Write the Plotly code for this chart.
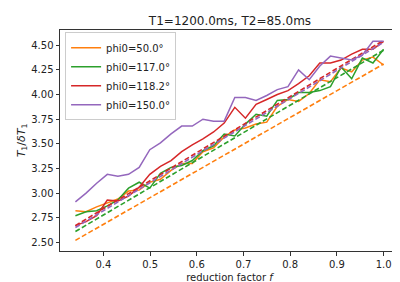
import plotly.graph_objects as go

# reduction factor f (30 samples)
f_values = [0.3400, 0.3628, 0.3855, 0.4083, 0.4310, 0.4538, 0.4766, 0.4993, 0.5221, 0.5448,
            0.5676, 0.5903, 0.6131, 0.6359, 0.6586, 0.6814, 0.7041, 0.7269, 0.7497, 0.7724,
            0.7952, 0.8179, 0.8407, 0.8634, 0.8862, 0.9090, 0.9317, 0.9545, 0.9772, 1.0000]

labels = ["phi0=50.0°", "phi0=117.0°", "phi0=118.2°", "phi0=150.0°"]
colors = ["#ff7f0e", "#2ca02c", "#d62728", "#9467bd"]

phi50 = [2.82, 2.81, 2.86, 2.90, 2.94, 3.02, 3.03, 3.11, 3.14, 3.23,
         3.30, 3.30, 3.42, 3.46, 3.57, 3.64, 3.66, 3.70, 3.72, 3.88,
         3.95, 3.93, 4.01, 4.15, 4.13, 4.27, 4.23, 4.35, 4.38, 4.30]
phi117 = [2.77, 2.81, 2.82, 2.87, 2.93, 3.05, 3.11, 3.05, 3.20, 3.26,
          3.28, 3.33, 3.43, 3.48, 3.60, 3.58, 3.70, 3.80, 3.78, 3.94,
          3.95, 4.02, 4.02, 4.04, 4.08, 4.28, 4.16, 4.37, 4.32, 4.46]
phi118 = [2.67, 2.71, 2.77, 2.93, 2.92, 2.97, 3.06, 3.19, 3.27, 3.33,
          3.42, 3.49, 3.55, 3.62, 3.71, 3.87, 3.76, 3.90, 3.95, 4.00,
          4.04, 4.11, 4.19, 4.32, 4.32, 4.35, 4.41, 4.46, 4.46, 4.54]
phi150 = [2.91, 3.00, 3.10, 3.19, 3.17, 3.19, 3.26, 3.44, 3.51, 3.60,
          3.68, 3.68, 3.75, 3.73, 3.73, 3.97, 3.97, 3.94, 3.99, 4.05,
          4.08, 4.25, 4.15, 4.29, 4.39, 4.37, 4.35, 4.40, 4.54, 4.54]
series = [phi50, phi117, phi118, phi150]

# linear-fit (dashed) values at f = 0.34 and f = 1.0
fit_f = [0.34, 1.0]
fit_start = [2.52, 2.61, 2.67, 2.65]
fit_end = [4.31, 4.45, 4.55, 4.53]

fig = go.Figure()
for lab, col, ys, y0, y1 in zip(labels, colors, series, fit_start, fit_end):
    fig.add_trace(go.Scatter(x=f_values, y=ys, mode="lines", name=lab,
                             line=dict(color=col, width=1.5)))
    fig.add_trace(go.Scatter(x=fit_f, y=[y0, y1], mode="lines", showlegend=False,
                             line=dict(color=col, width=1.6, dash="5px,2.5px")))

font = "DejaVu Sans, Arial, sans-serif"
axis_common = dict(showline=True, mirror=True, linecolor="#333", linewidth=1,
                   ticks="outside", ticklen=3.5, tickcolor="#333", showgrid=False,
                   zeroline=False, tickfont=dict(size=10, color="#222", family=font))

fig.update_layout(
    width=400, height=282,
    margin=dict(l=52, r=9, t=22, b=39),
    paper_bgcolor="white", plot_bgcolor="white",
    title=dict(text="T1=1200.0ms, T2=85.0ms", x=0.555, xanchor="center", y=0.955,
               yanchor="middle", font=dict(size=12, color="#222", family=font)),
    xaxis=dict(range=[0.307, 1.033], tickvals=[0.4, 0.5, 0.6, 0.7, 0.8, 0.9, 1.0],
               ticktext=["0.4", "0.5", "0.6", "0.7", "0.8", "0.9", "1.0"],
               title=dict(text="reduction factor <i>f</i>", standoff=5,
                          font=dict(size=10, color="#222", family=font)),
               **axis_common),
    yaxis=dict(range=[2.412, 4.655], tickvals=[2.5, 2.75, 3.0, 3.25, 3.5, 3.75, 4.0, 4.25, 4.5],
               ticktext=["2.50", "2.75", "3.00", "3.25", "3.50", "3.75", "4.00", "4.25", "4.50"],
               title=dict(text="<i>T</i><sub>1</sub>/<i>δT</i><sub>1</sub>", standoff=3,
                          font=dict(size=11, color="#222", family=font)),
               **axis_common),
    legend=dict(x=0.015, y=0.99, xanchor="left", yanchor="top",
                bgcolor="rgba(255,255,255,0.8)", bordercolor="#ccc", borderwidth=1,
                font=dict(size=10, color="#222", family=font),
                tracegroupgap=0, itemwidth=30),
    showlegend=True,
)

fig.write_html("out.html")
